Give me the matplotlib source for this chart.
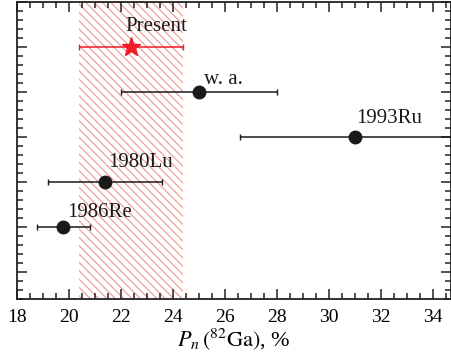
import matplotlib
matplotlib.use("Agg")
import matplotlib.pyplot as plt
from matplotlib.ticker import MultipleLocator

plt.rcParams['font.family'] = ['Liberation Serif', 'DejaVu Serif']
plt.rcParams['mathtext.fontset'] = 'stix'
plt.rcParams['hatch.linewidth'] = 0.85

# Pn(82Ga) measurements, one row each (row 5 = this work)
labels = ['1986Re', '1980Lu', '1993Ru', 'w. a.']
values = [19.8, 21.4, 31.0, 25.0]
errors = [1.0, 2.2, 4.4, 3.0]
rows = [1, 2, 3, 4]

present_value = 22.4
present_error = 2.0
present_row = 5

# label offsets in points from each point
offsets = [(25.6, 10.5), (25.8, 13.9), (24.7, 13.5), (17.8, 9.1)]

fig = plt.figure(figsize=(4.51, 3.62), dpi=100)
ax = fig.add_axes([0.037, 0.174, 0.963, 0.8205])

ax.axvspan(present_value - present_error, present_value + present_error,
           facecolor='none', edgecolor='#f29a9a', hatch='\\\\\\\\',
           linewidth=0, zorder=0)

ax.errorbar(values, rows, xerr=errors, fmt='o', color='#1a1a1a',
            markersize=9, elinewidth=1.1, capsize=2.5, capthick=1.0,
            zorder=3)
ax.errorbar([present_value], [present_row], xerr=[present_error],
            fmt='*', color='#ee1c25', markersize=14, elinewidth=1.1,
            capsize=2.5, capthick=1.0, zorder=3)

for lab, x, y, off in zip(labels, values, rows, offsets):
    ax.annotate(lab, (x, y), xytext=off, textcoords='offset points',
                ha='center', va='center', fontsize=15, color='#1a1a1a')
ax.annotate('Present', (present_value, present_row), xytext=(18.3, 14.4),
            textcoords='offset points', ha='center', va='center',
            fontsize=15, color='#1a1a1a')

ax.set_xlim(18, 34.7)
ax.set_ylim(-0.6, 6.0)
ax.xaxis.set_major_locator(MultipleLocator(2))
ax.xaxis.set_minor_locator(MultipleLocator(0.5))
ax.yaxis.set_major_locator(MultipleLocator(1))
ax.yaxis.set_minor_locator(MultipleLocator(0.2))
ax.tick_params(which='both', direction='in', top=True, right=True,
               width=1.1, color='#222222')
ax.tick_params(which='major', length=7, labelsize=14, pad=7)
ax.tick_params(which='minor', length=4.5)
ax.tick_params(axis='y', which='both', labelleft=False)
for s in ax.spines.values():
    s.set_linewidth(1.3)
    s.set_color('#222222')

ax.set_xlabel(r'$P_n\,(^{82}\mathrm{Ga})$, %', fontsize=16, labelpad=0)

fig.savefig('out.png', dpi=100)
